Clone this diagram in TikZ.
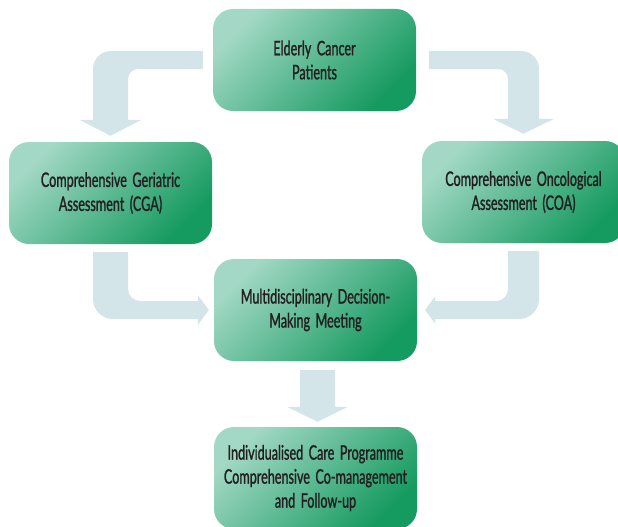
\documentclass[tikz,border=0pt]{standalone}
\usepackage{fontspec}
\setmainfont[FakeStretch=0.63,WordSpace=1.7,FakeBold=1.2]{Lato}
\usetikzlibrary{calc}
\definecolor{boxlight}{HTML}{A2D8C5}
\definecolor{boxdark}{HTML}{159A5F}
\definecolor{flowgrey}{HTML}{D3E5E8}
\definecolor{textdark}{HTML}{231F20}
\tikzset{
    carebox/.style={
        rounded corners=20pt,
        minimum width=203pt,
        minimum height=102pt,
        top color=boxlight,
        bottom color=boxdark,
        shading angle=45,
        text=textdark,
        align=center,
        font=\fontsize{20}{24}\selectfont
    },
    flow/.style={
        fill=flowgrey
    }
}

\begin{document}
\begin{tikzpicture}[x=1pt,y=-1pt]
        \useasboundingbox (0,0) rectangle (618,527);
        \clip (0,0) rectangle (618,527);

        % draw boxes
        \node[carebox] (elderly) at (314.5,60) {Elderly Cancer\\Patients};
        \node[carebox] (cga) at (110.5,193) {Comprehensive Geriatric\\Assessment (CGA)};
        \node[carebox] (coa) at (523.5,192) {Comprehensive Oncological\\Assessment (COA)};
        \node[carebox] (meeting) at (315.5,310) {Multidisciplinary Decision-\\Making Meeting};
        \node[carebox] (care) at (315.5,478) {Individualised Care Programme\\Comprehensive Co-management\\and Follow-up};

        % draw bent arrows
        \fill[flow] let \p1=([xshift=-10pt]elderly.west), \p2=([yshift=6pt]cga.north) in
            (\x1,\y1+9pt) [rounded corners=18pt] -- (\x2-17.5pt,\y1+9pt) [sharp corners] -- (\x2-17.5pt,\y2+16pt)
            -- (\x2-31pt,\y2+16pt) -- (\x2,\y2) -- (\x2+31pt,\y2+16pt) -- (\x2+17.5pt,\y2+16pt)
            [rounded corners=10pt] -- (\x2+17.5pt,\y1-9pt) [sharp corners] -- (\x1,\y1-9pt) -- cycle;
        \fill[flow] let \p1=([xshift=13pt]elderly.east), \p2=([yshift=7pt]coa.north) in
            (\x1,\y1+9pt) [rounded corners=18pt] -- (\x2+15.5pt,\y1+9pt) [sharp corners] -- (\x2+15.5pt,\y2+15pt)
            -- (\x2+30.5pt,\y2+15pt) -- (\x2,\y2) -- (\x2-30.5pt,\y2+15pt) -- (\x2-15.5pt,\y2+15pt)
            [rounded corners=10pt] -- (\x2-15.5pt,\y1-9pt) [sharp corners] -- (\x1,\y1-9pt) -- cycle;
        \fill[flow] let \p1=([yshift=-8pt]cga.south), \p2=([xshift=-5pt]meeting.west) in
            (\x1-17.5pt,\y1) [rounded corners=20pt] -- (\x1-17.5pt,\y2-9pt) [sharp corners] -- (\x2-11pt,\y2-9pt)
            -- (\x2-11pt,\y2-15pt) -- (\x2,\y2) -- (\x2-11pt,\y2+15pt) -- (\x2-11pt,\y2+9pt)
            [rounded corners=12pt] -- (\x1+17.5pt,\y2+9pt) [sharp corners] -- (\x1+17.5pt,\y1) -- cycle;
        \fill[flow] let \p1=([yshift=-8pt]coa.south), \p2=([xshift=8pt]meeting.east) in
            (\x1+15.5pt,\y1) [rounded corners=20pt] -- (\x1+15.5pt,\y2-9pt) [sharp corners] -- (\x2+10pt,\y2-9pt)
            -- (\x2+10pt,\y2-14pt) -- (\x2,\y2) -- (\x2+10pt,\y2+14pt) -- (\x2+10pt,\y2+9pt)
            [rounded corners=12pt] -- (\x1-15.5pt,\y2+9pt) [sharp corners] -- (\x1-15.5pt,\y1) -- cycle;

        % draw straight arrow
        \fill[flow] let \p1=([xshift=2pt,yshift=-9pt]meeting.south), \p2=([xshift=2pt,yshift=5pt]care.north) in
            (\x1-17.5pt,\y1) -- (\x1-17.5pt,\y2+15pt) -- (\x1-30.5pt,\y2+15pt) -- (\x2,\y2)
            -- (\x1+30.5pt,\y2+15pt) -- (\x1+17.5pt,\y2+15pt) -- (\x1+17.5pt,\y1) -- cycle;
\end{tikzpicture}
\end{document}
